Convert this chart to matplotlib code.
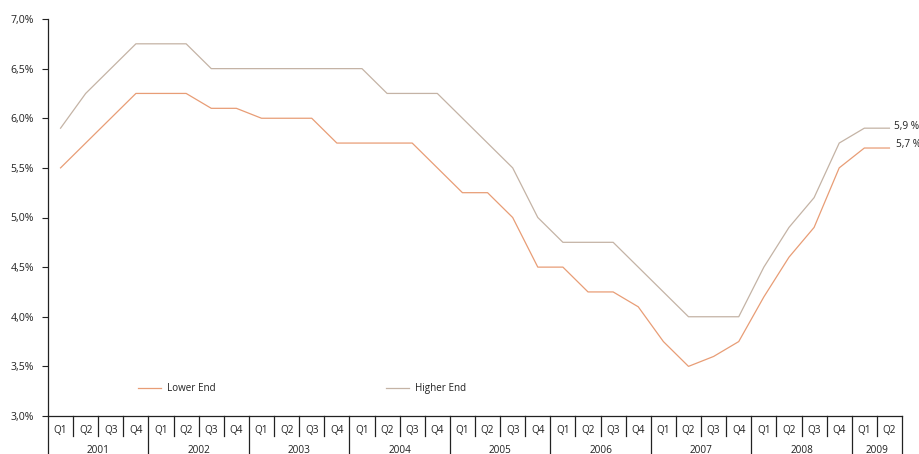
import matplotlib
matplotlib.use("Agg")
import matplotlib.pyplot as plt

plt.rcParams['font.family'] = ['Open Sans', 'DejaVu Sans']

years = ["2001", "2002", "2003", "2004", "2005", "2006", "2007", "2008", "2009"]
quarters_per_year = [4, 4, 4, 4, 4, 4, 4, 4, 2]

higher_end = [5.9, 6.25, 6.5, 6.75, 6.75, 6.75, 6.5, 6.5,
              6.5, 6.5, 6.5, 6.5, 6.5, 6.25, 6.25, 6.25,
              6.0, 5.75, 5.5, 5.0, 4.75, 4.75, 4.75, 4.5,
              4.25, 4.0, 4.0, 4.0, 4.5, 4.9, 5.2, 5.75,
              5.9, 5.9]
lower_end = [5.5, 5.75, 6.0, 6.25, 6.25, 6.25, 6.1, 6.1,
             6.0, 6.0, 6.0, 5.75, 5.75, 5.75, 5.75, 5.5,
             5.25, 5.25, 5.0, 4.5, 4.5, 4.25, 4.25, 4.1,
             3.75, 3.5, 3.6, 3.75, 4.2, 4.6, 4.9, 5.5,
             5.7, 5.7]
y_ticks = [3.0, 3.5, 4.0, 4.5, 5.0, 5.5, 6.0, 6.5, 7.0]

GREY = "#c4b3a5"
ORANGE = "#e89d76"
INK = "#222222"

quarter_labels = []
for n in quarters_per_year:
    quarter_labels += [f"Q{q + 1}" for q in range(n)]
x = list(range(len(quarter_labels)))

fig = plt.figure(figsize=(9.2, 4.54), dpi=100)
ax = fig.add_axes([48 / 920, 38 / 454, 854 / 920, 397 / 454])

ax.plot(x, lower_end, color=ORANGE, lw=0.9, label="Lower End")
ax.plot(x, higher_end, color=GREY, lw=0.9, label="Higher End")

# end-of-series value labels (they run off the right edge a little)
ax.annotate(f"{higher_end[-1]:.1f} %".replace(".", ","), (x[-1], higher_end[-1]),
            xytext=(3, 1.5), textcoords="offset points", va="center",
            fontsize=7.3, color=INK, annotation_clip=False)
ax.annotate(f"{lower_end[-1]:.1f} %".replace(".", ","), (x[-1], lower_end[-1]),
            xytext=(5, 2.5), textcoords="offset points", va="center",
            fontsize=7.3, color=INK, annotation_clip=False)

ax.set_xlim(-0.5, len(x) - 0.5)
ax.set_ylim(3.0, 7.0)
ax.set_yticks(y_ticks)
ax.set_yticklabels([f"{v:.1f}%".replace(".", ",") for v in y_ticks])
ax.tick_params(axis="y", length=4, width=0.8, pad=6, labelsize=7.6, colors=INK)
ax.set_xticks([])

for side in ("top", "right"):
    ax.spines[side].set_visible(False)
ax.spines["left"].set_color(INK)
ax.spines["bottom"].set_color(INK)
ax.spines["left"].set_linewidth(0.9)
ax.spines["bottom"].set_linewidth(0.9)

# category table under the axis: quarters and years
tr = ax.get_xaxis_transform()
q_bottom = -0.05
y_bottom = -0.1
ax.plot([-0.5, -0.5], [0, y_bottom], transform=tr, color=INK, lw=0.9, clip_on=False)
start = 0
for year, n in zip(years, quarters_per_year):
    for k in range(n):
        xi = start + k
        ax.text(xi, -0.037, quarter_labels[xi], transform=tr, ha="center", va="center",
                fontsize=7.2, color=INK)
        if k < n - 1:
            ax.plot([xi + 0.5, xi + 0.5], [0, q_bottom], transform=tr, color=INK,
                    lw=0.9, clip_on=False)
    end = start + n - 1
    ax.text((start + end) / 2, -0.086, year, transform=tr, ha="center", va="center",
            fontsize=7.2, color=INK)
    ax.plot([end + 0.5, end + 0.5], [0, y_bottom], transform=tr, color=INK, lw=0.9,
            clip_on=False)
    start += n

leg = ax.legend(loc="lower left", bbox_to_anchor=(0.101, 0.045), ncol=2, frameon=False,
                fontsize=7.1, handlelength=2.3, handletextpad=0.6, columnspacing=17.3,
                borderaxespad=0)
for t in leg.get_texts():
    t.set_color(INK)

fig.savefig("out.png", dpi=100)
